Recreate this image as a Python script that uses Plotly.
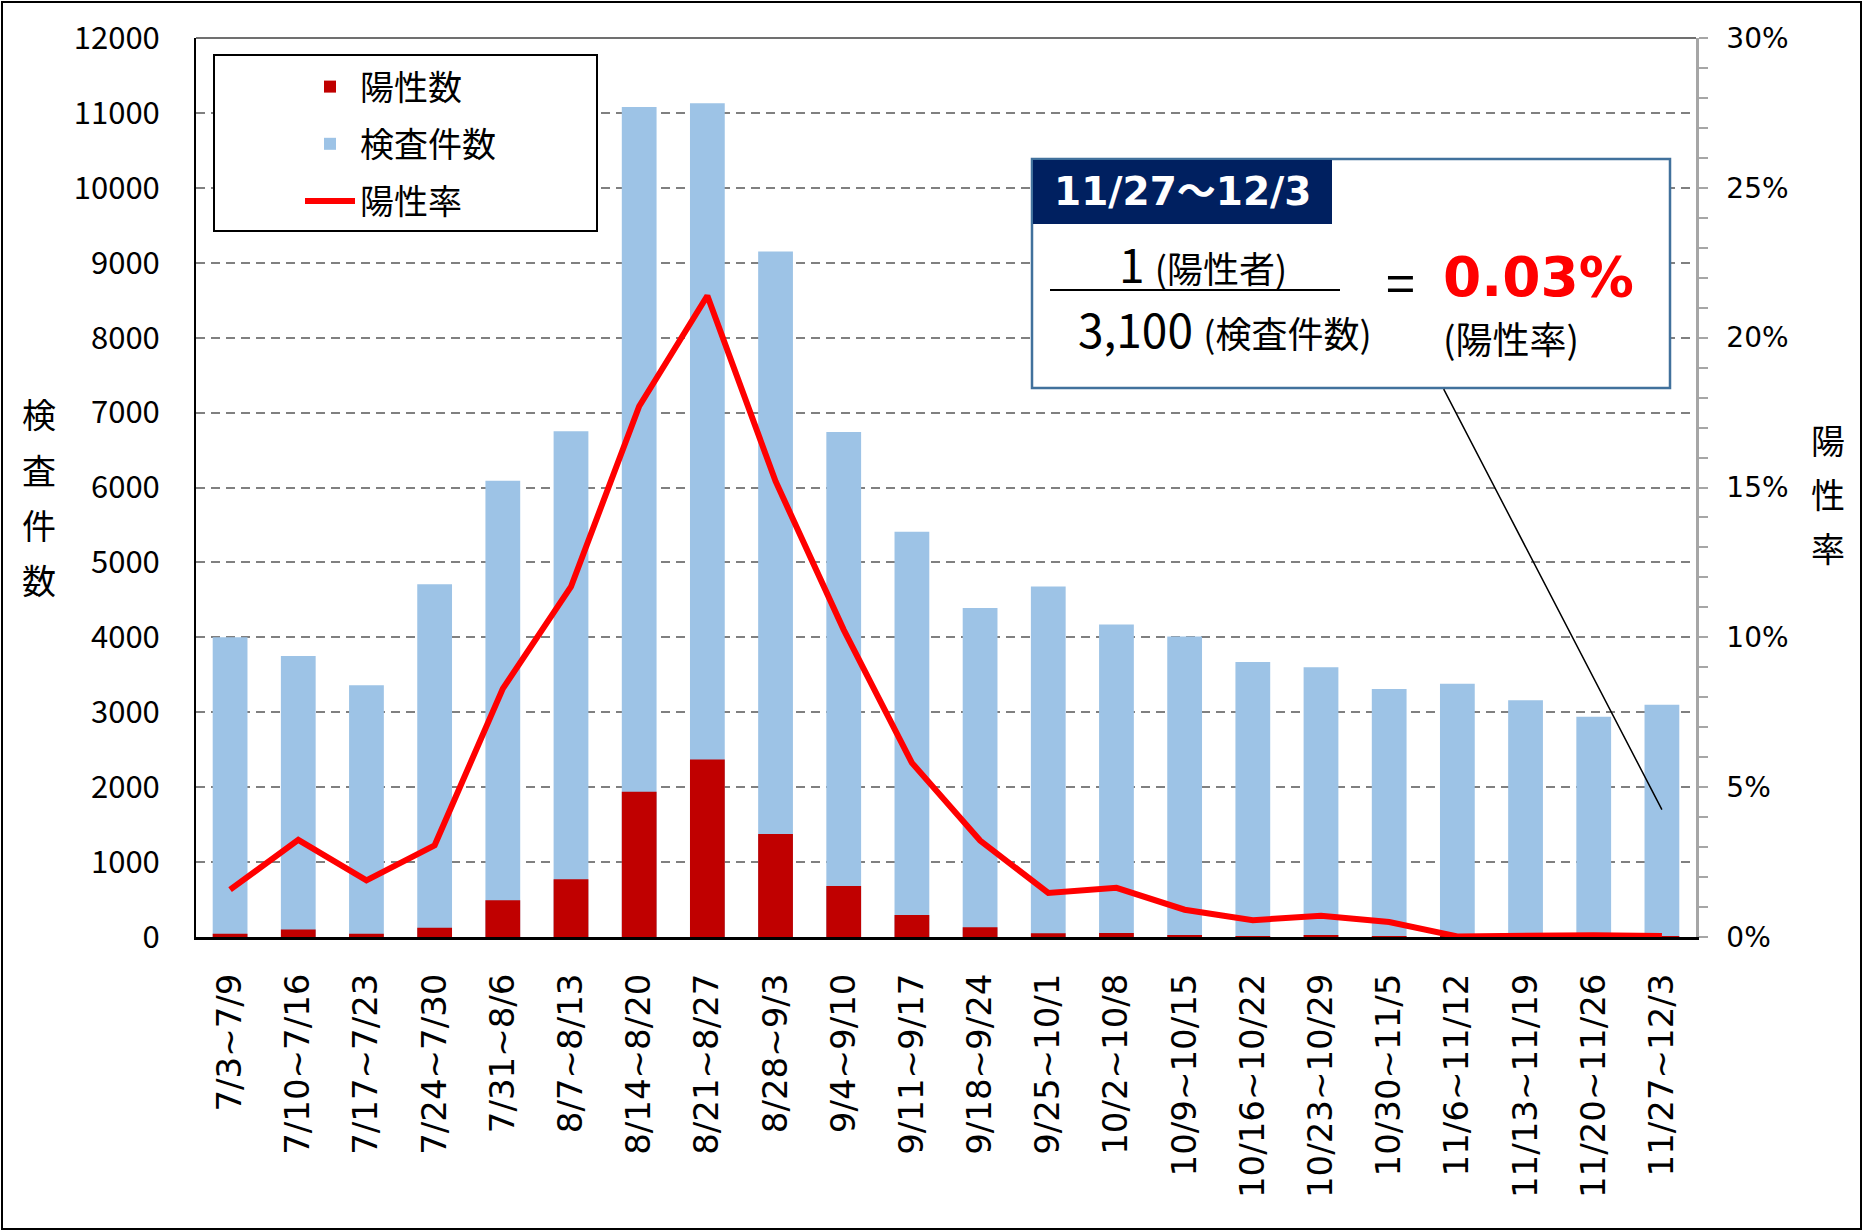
import plotly.graph_objects as go

# ---------------- data ----------------
categories = ["7/3~7/9", "7/10~7/16", "7/17~7/23", "7/24~7/30", "7/31~8/6", "8/7~8/13",
              "8/14~8/20", "8/21~8/27", "8/28~9/3", "9/4~9/10", "9/11~9/17", "9/18~9/24",
              "9/25~10/1", "10/2~10/8", "10/9~10/15", "10/16~10/22", "10/23~10/29",
              "10/30~11/5", "11/6~11/12", "11/13~11/19", "11/20~11/26", "11/27~12/3"]
tests = [4000, 3750, 3360, 4710, 6090, 6750, 11080, 11130, 9150, 6740, 5410, 4390,
         4680, 4170, 4010, 3670, 3600, 3310, 3380, 3160, 2940, 3100]
positives = [45, 100, 45, 125, 490, 770, 1940, 2370, 1375, 680, 295, 130,
             50, 55, 22, 6, 14, 5, 1, 2, 2, 1]
rates = [1.58, 3.24, 1.89, 3.06, 8.29, 11.69, 17.71, 21.4, 15.21, 10.25, 5.81, 3.22,
         1.47, 1.64, 0.91, 0.56, 0.71, 0.50, 0.02, 0.06, 0.06, 0.03]

left_ticks = list(range(0, 12001, 1000))
right_ticks = list(range(0, 31, 5))

# ---------------- geometry helpers ----------------
W, H = 1865, 1232
L, R, T, B = 196, 169, 38, 295
PW, PH = W - L - R, H - T - B


def px(x):
    return (x - L) / PW


def py(y):
    return (H - B - y) / PH


JP = "Noto Sans CJK JP"
VER = "DejaVu Sans, Verdana, Noto Sans CJK JP"

fig = go.Figure()
fig.add_trace(go.Bar(x=categories, y=tests, name="検査件数", marker_color="#9DC3E6",
                     marker_line_width=0, legendrank=2, legendgroup="b"))
fig.add_trace(go.Bar(x=categories, y=positives, name="陽性数", marker_color="#C00000",
                     marker_line_width=0, legendrank=1, legendgroup="a"))
fig.add_trace(go.Scatter(x=categories, y=rates, name="陽性率", mode="lines", yaxis="y2",
                         line=dict(color="#FF0000", width=6), legendrank=3, legendgroup="c"))

shapes = []
# outer frame of the image
shapes.append(dict(type="rect", xref="paper", yref="paper",
                   x0=px(2), x1=px(1861), y0=py(1229), y1=py(2),
                   line=dict(color="black", width=2), layer="below"))
# top border of the plot area
shapes.append(dict(type="line", xref="paper", yref="paper", x0=0, x1=1, y0=1, y1=1,
                   line=dict(color="#404040", width=1.5)))
# legend box
shapes.append(dict(type="rect", xref="paper", yref="paper",
                   x0=px(214), x1=px(597), y0=py(231), y1=py(55),
                   line=dict(color="black", width=2), fillcolor="white"))
# callout box
shapes.append(dict(type="rect", xref="paper", yref="paper",
                   x0=px(1032), x1=px(1670), y0=py(388), y1=py(159),
                   line=dict(color="#41719C", width=2.5), fillcolor="white"))
shapes.append(dict(type="rect", xref="paper", yref="paper",
                   x0=px(1033), x1=px(1332), y0=py(224), y1=py(160),
                   line=dict(width=0), fillcolor="#002060"))
# fraction bar
shapes.append(dict(type="line", xref="paper", yref="paper",
                   x0=px(1050), x1=px(1340), y0=py(290), y1=py(290),
                   line=dict(color="black", width=2)))


def note(text, x, y, size, family=JP, color="black"):
    return dict(text=text, x=px(x), y=py(y), xref="paper", yref="paper",
                xanchor="center", yanchor="middle", showarrow=False,
                font=dict(family=family, size=size, color=color))


annotations = []
for ch, yy in zip("検査件数", [413, 469, 524, 579]):
    annotations.append(note(ch, 39, yy, 34))
for ch, yy in zip("陽性率", [439, 493, 547]):
    annotations.append(note(ch, 1828, yy, 34))

# callout texts
annotations.append(note("<b>11/27～12/3</b>", 1182, 191, 39, VER, "white"))
annotations.append(note("1 <span style='font-size:36px'>(陽性者)</span>", 1203, 263, 46))
annotations.append(note("3,100 <span style='font-size:36px'>(検査件数)</span>", 1225, 328, 46))
annotations.append(note("=", 1400, 280, 52))
annotations.append(note("<b>0.03%</b>", 1538, 277, 55, VER, "#FF0000"))
annotations.append(note("(陽性率)", 1511, 338, 37))
# connector line from callout to the last bar
annotations.append(dict(text="", x=categories[-1], y=1700, xref="x", yref="y",
                        ax=1443 - 1662, ay=388 - 810, axref="pixel", ayref="pixel",
                        showarrow=True, arrowhead=0, arrowwidth=1.5, arrowcolor="black"))

fig.update_layout(
    width=W, height=H,
    margin=dict(l=L, r=R, t=T, b=B, pad=0),
    paper_bgcolor="white", plot_bgcolor="white",
    barmode="overlay", bargap=0.49,
    font=dict(family=JP, color="black"),
    xaxis=dict(tickangle=-90, tickfont=dict(family=VER, size=34, color="black"),
               showline=True, linecolor="black", linewidth=3, showgrid=False,
               ticks="", ticklabelstandoff=20),
    yaxis=dict(range=[0, 12000], tickvals=left_ticks, ticktext=[str(v) for v in left_ticks],
               tickfont=dict(family=JP, size=31, color="black"),
               showline=True, linecolor="black", linewidth=2,
               showgrid=True, gridcolor="#808080", gridwidth=2, griddash="9px,6px",
               zeroline=False, ticks="", ticklabelstandoff=28),
    yaxis2=dict(range=[0, 30], overlaying="y", side="right", tickvals=right_ticks,
                ticktext=[f"{v}%" for v in right_ticks],
                tickfont=dict(family=VER, size=28, color="black"),
                showline=True, linecolor="#A6A6A6", linewidth=2.5,
                ticks="outside", ticklen=9, tickwidth=2, tickcolor="#A6A6A6",
                minor=dict(dtick=1, ticks="outside", ticklen=9, tickwidth=2, tickcolor="#A6A6A6"),
                showgrid=False, zeroline=False, ticklabelstandoff=13),
    showlegend=True,
    legend=dict(x=px(300), y=py(58), xanchor="left", yanchor="top",
                bgcolor="rgba(0,0,0,0)", borderwidth=0,
                font=dict(family=JP, size=34, color="black"),
                traceorder="grouped", tracegroupgap=10, itemwidth=50),
    shapes=shapes,
    annotations=annotations,
)

fig.write_html("out.html", config={"displayModeBar": False},
               post_script="document.body.style.margin='0';document.body.style.overflow='hidden';")
